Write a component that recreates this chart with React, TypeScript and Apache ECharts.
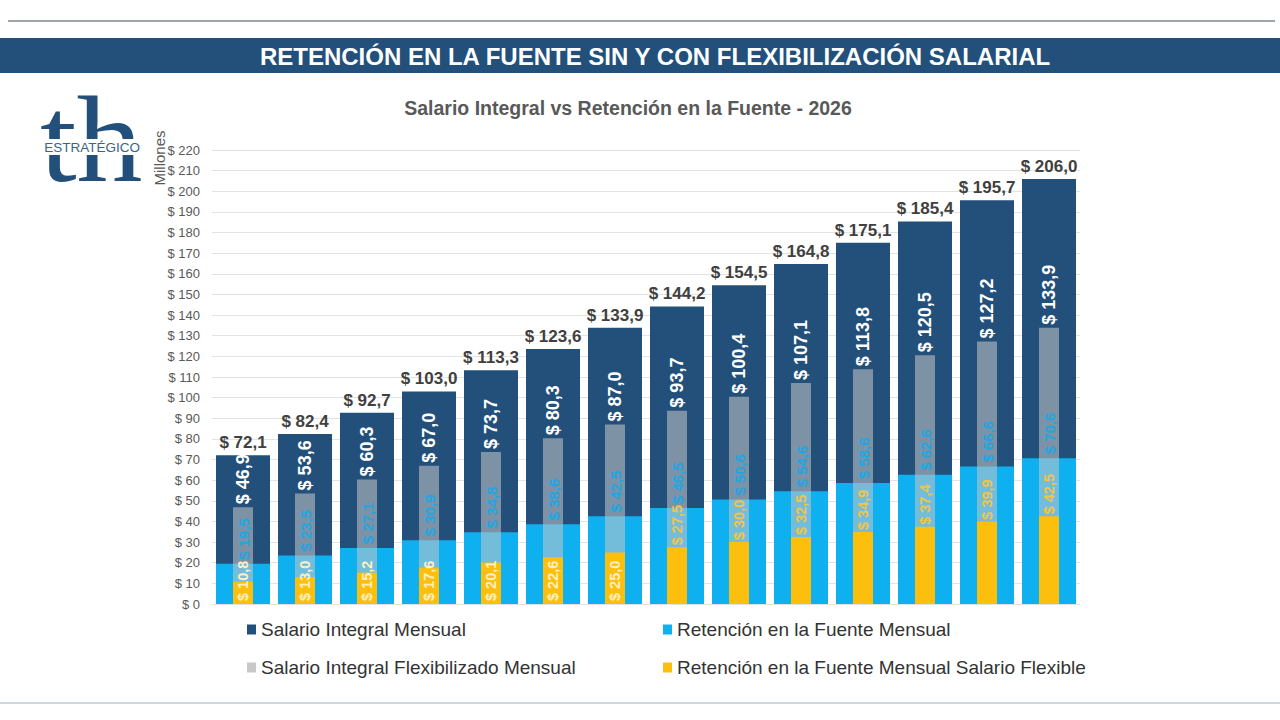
import React, { useEffect, useRef } from "react";
import * as echarts from "echarts";

const categories = ["1", "2", "3", "4", "5", "6", "7", "8", "9", "10", "11", "12", "13", "14"];
const salarioIntegral = [72.1, 82.4, 92.7, 103.0, 113.3, 123.6, 133.9, 144.2, 154.5, 164.8, 175.1, 185.4, 195.7, 206.0];
const retencion = [19.5, 23.5, 27.1, 30.9, 34.8, 38.6, 42.5, 46.5, 50.6, 54.6, 58.6, 62.6, 66.6, 70.6];
const salarioFlex = [46.9, 53.6, 60.3, 67.0, 73.7, 80.3, 87.0, 93.7, 100.4, 107.1, 113.8, 120.5, 127.2, 133.9];
const retencionFlex = [10.8, 13.0, 15.2, 17.6, 20.1, 22.6, 25.0, 27.5, 30.0, 32.5, 34.9, 37.4, 39.9, 42.5];

const seriesNames = [
  "Salario Integral Mensual",
  "Retención en la Fuente Mensual",
  "Salario Integral Flexibilizado Mensual",
  "Retención en la Fuente Mensual Salario Flexible",
];
const seriesColors = ["#22507a", "#0fb0ef", "#c8c8c8", "#fdbf0e"];

const FONT = "'Liberation Sans', Arial, sans-serif";
const fmt = (v: number) => "$ " + v.toFixed(1).replace(".", ",");

function App() {
  const chartRef = useRef<HTMLDivElement>(null);

  useEffect(() => {
    const chart = echarts.init(chartRef.current!, null, { renderer: "svg" });

    const legendBase = {
      itemWidth: 9,
      itemHeight: 10,
      icon: "rect",
      textStyle: { fontFamily: FONT, fontSize: 19, color: "#333333" },
    };
    const legendItem = (i: number) => ({
      name: seriesNames[i],
      itemStyle: { color: seriesColors[i] },
    });

    const rotatedLabel = {
      show: true,
      position: "top" as const,
      rotate: 90,
      align: "left" as const,
      verticalAlign: "middle" as const,
      fontFamily: FONT,
      fontWeight: "bold" as const,
      formatter: (p: any) => fmt(p.value),
    };

    const option: echarts.EChartsOption = {
      animation: false,
      backgroundColor: "#ffffff",
      title: {
        text: "Salario Integral vs Retención en la Fuente - 2026",
        left: 623,
        top: 93,
        textAlign: "center",
        textStyle: { fontFamily: FONT, fontSize: 19.5, fontWeight: "bold", color: "#595959" },
      },
      legend: [
        { ...legendBase, left: 242, top: 615, data: [legendItem(0)] },
        { ...legendBase, left: 658, top: 615, data: [legendItem(1)] },
        { ...legendBase, left: 242, top: 653, data: [legendItem(2)] },
        { ...legendBase, left: 658, top: 653, data: [legendItem(3)] },
      ],
      grid: { left: 212, right: 200, top: 150, bottom: 116 },
      xAxis: [
        {
          type: "category",
          data: categories,
          axisLabel: { show: false },
          axisTick: { show: false },
          axisLine: { show: true, lineStyle: { color: "#e3e3e3" } },
        },
        {
          type: "category",
          data: categories,
          show: false,
        },
      ],
      yAxis: {
        type: "value",
        min: 0,
        max: 220,
        interval: 10,
        axisLabel: {
          formatter: (v: number) => "$ " + v,
          fontFamily: FONT,
          fontSize: 13,
          color: "#595959",
          margin: 12,
        },
        axisLine: { show: false },
        axisTick: { show: false },
        splitLine: { lineStyle: { color: "#e3e3e3" } },
      },
      series: [
        {
          name: seriesNames[0],
          type: "bar",
          xAxisIndex: 0,
          data: salarioIntegral,
          barWidth: 54,
          barGap: "-100%",
          itemStyle: { color: seriesColors[0] },
          z: 1,
          label: {
            show: true,
            position: "top",
            distance: 4,
            formatter: (p: any) => fmt(p.value),
            fontFamily: FONT,
            fontSize: 17,
            fontWeight: "bold",
            color: "#404040",
          },
        },
        {
          name: seriesNames[1],
          type: "bar",
          xAxisIndex: 0,
          data: retencion,
          barWidth: 54,
          barGap: "-100%",
          itemStyle: { color: seriesColors[1] },
          z: 2,
        },
        {
          name: seriesNames[2],
          type: "bar",
          xAxisIndex: 1,
          data: salarioFlex,
          barWidth: 20,
          barGap: "-100%",
          itemStyle: { color: "rgba(200,200,200,0.55)" },
          z: 3,
          label: { ...rotatedLabel, distance: 3, fontSize: 18, color: "#ffffff" },
        },
        {
          name: seriesNames[3],
          type: "bar",
          xAxisIndex: 1,
          data: retencionFlex.map((v, i) =>
            i < 7
              ? { value: v, label: { position: "insideBottom", color: "#fdf0c4", distance: 3 } }
              : { value: v, label: { position: "top", color: "#eec44c", distance: 2 } }
          ),
          barWidth: 20,
          barGap: "-100%",
          itemStyle: { color: seriesColors[3] },
          z: 4,
          label: { ...rotatedLabel, fontSize: 14.5 },
        },
        {
          // labels of the retención series, drawn above the flexibilizado overlay
          name: "labels-retencion",
          type: "bar",
          xAxisIndex: 0,
          data: retencion,
          barWidth: 54,
          barGap: "-100%",
          itemStyle: { color: "rgba(0,0,0,0)" },
          silent: true,
          z: 5,
          label: { ...rotatedLabel, distance: 4, fontSize: 15, color: "#22a6e2" },
        },
      ],
      graphic: [
        {
          type: "line",
          shape: { x1: 8, y1: 21, x2: 1275, y2: 21 },
          style: { stroke: "#3e4a56", lineWidth: 1 },
        },
        {
          type: "rect",
          shape: { x: 0, y: 38, width: 1280, height: 35 },
          style: { fill: "#22507a" },
        },
        {
          type: "text",
          x: 655,
          y: 56,
          style: {
            text: "RETENCIÓN EN LA FUENTE SIN Y CON FLEXIBILIZACIÓN SALARIAL",
            fill: "#ffffff",
            font: "bold 24px " + FONT,
            align: "center",
            verticalAlign: "middle",
          },
        },
        {
          type: "text",
          x: 40,
          y: 79,
          scaleX: 1.08,
          z: 100,
          style: {
            text: "th",
            fill: "#22507a",
            font: "122px 'Liberation Serif', 'DejaVu Serif', serif",
            align: "left",
            verticalAlign: "top",
          },
        },
        {
          type: "text",
          x: 92,
          y: 147,
          z: 102,
          style: {
            text: "ESTRATÉGICO",
            fill: "#3a6387",
            font: "13.5px " + FONT,
            align: "center",
            verticalAlign: "middle",
            backgroundColor: "#ffffff",
            padding: [1, 3, 1, 3],
          },
        },
        {
          type: "text",
          x: 159,
          y: 158,
          rotation: Math.PI / 2,
          style: {
            text: "Millones",
            fill: "#595959",
            font: "15px " + FONT,
            align: "center",
            verticalAlign: "middle",
          },
        },
        {
          type: "line",
          shape: { x1: 0, y1: 703, x2: 1280, y2: 703 },
          style: { stroke: "#9fb0bf", lineWidth: 1 },
        },
      ],
    };

    chart.setOption(option);
    return () => {
      chart.dispose();
    };
  }, []);

  return (
    <div
      ref={chartRef}
      style={{ position: "fixed", left: 0, top: 0, width: 1280, height: 720 }}
    />
  );
}

export default App;
